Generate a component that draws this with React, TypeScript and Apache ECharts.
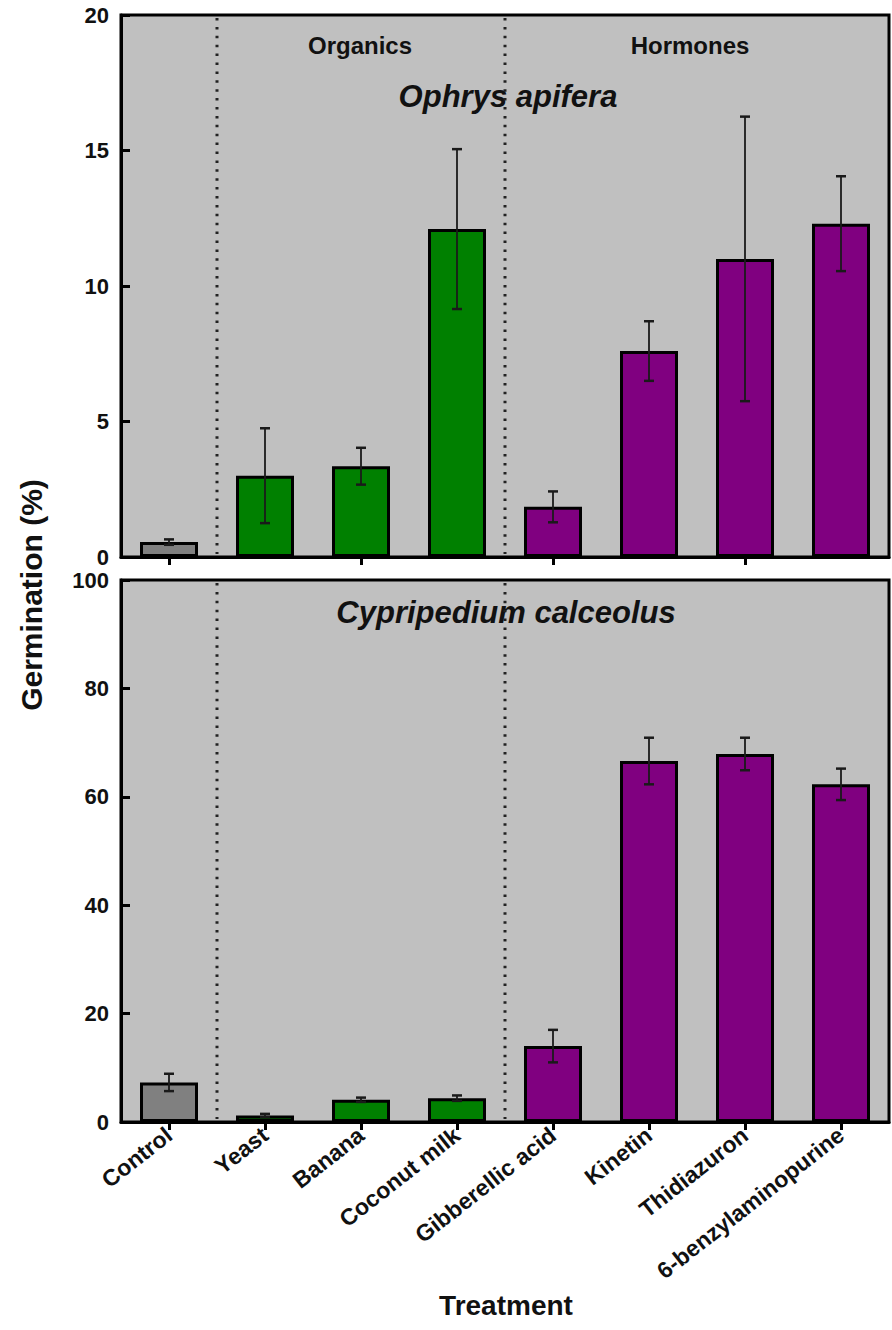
import React, { useEffect, useRef } from 'react';
import * as echarts from 'echarts';

const categories = ['Control', 'Yeast', 'Banana', 'Coconut milk', 'Gibberellic acid', 'Kinetin', 'Thidiazuron', '6-benzylaminopurine'];
const groups = ['Control', 'Organics', 'Organics', 'Organics', 'Hormones', 'Hormones', 'Hormones', 'Hormones'];
const ophrysMean = [0.55, 3.0, 3.35, 12.1, 1.85, 7.6, 11.0, 12.3];
const ophrysErr = [0.1, 1.75, 0.68, 2.95, 0.57, 1.1, 5.25, 1.75];
const cypMean = [7.3, 1.2, 4.1, 4.4, 14.0, 66.6, 67.9, 62.3];
const cypErr = [1.6, 0.3, 0.4, 0.5, 3.0, 4.3, 3.0, 2.9];
const topAxis = { min: 0, max: 20, interval: 5 };
const bottomAxis = { min: 0, max: 100, interval: 20 };
const separators = [1, 4];
const groupLabels = ['Organics', 'Hormones'];
const panelTitles = ['Ophrys apifera', 'Cypripedium calceolus'];

const groupColor: Record<string, string> = {
  Control: '#808080',
  Organics: '#008000',
  Hormones: '#800080',
};

const FONT = '"Liberation Sans", Arial, Helvetica, sans-serif';

export default function App() {
  const ref = useRef<HTMLDivElement>(null);
  useEffect(() => {
    document.body.style.margin = '0';
    const chart = echarts.init(ref.current!, null, { renderer: 'svg' });

    const barData = (vals: number[]) =>
      vals.map((v, i) => ({
        value: v,
        itemStyle: { color: groupColor[groups[i]], borderColor: '#000', borderWidth: 3 },
      }));

    const errData = (m: number[], e: number[]) => m.map((v, i) => [i, v, e[i]]);

    const errRender = (params: any, api: any) => {
      const idx = api.value(0);
      const mean = api.value(1);
      const err = api.value(2);
      const hi = api.coord([idx, mean + err]);
      const lo = api.coord([idx, mean - err]);
      const cap = 5;
      const style = { stroke: '#1a1a1a', lineWidth: 1.8 };
      return {
        type: 'group',
        children: [
          { type: 'line', shape: { x1: hi[0], y1: hi[1], x2: lo[0], y2: lo[1] }, style },
          { type: 'line', shape: { x1: hi[0] - cap, y1: hi[1], x2: hi[0] + cap, y2: hi[1] }, style: { ...style, lineWidth: 2.5 } },
          { type: 'line', shape: { x1: lo[0] - cap, y1: lo[1], x2: lo[0] + cap, y2: lo[1] }, style: { ...style, lineWidth: 2.5 } },
        ],
      };
    };

    const sepRender = (params: any, api: any) => {
      const idx = api.value(0);
      const c = api.coord([idx, 0]);
      const bw = api.size([1, 0])[0];
      const x = c[0] - bw / 2;
      const cs = params.coordSys;
      return {
        type: 'line',
        shape: { x1: x, y1: cs.y + 3, x2: x, y2: cs.y + cs.height - 3 },
        style: { stroke: '#222', lineWidth: 3, lineDash: [2.5, 6.4], lineCap: 'butt' },
      };
    };

    const yAxisCommon = {
      type: 'value',
      splitLine: { show: false },
      axisLine: { show: true, lineStyle: { color: '#000', width: 3 } },
      axisTick: { show: true, inside: true, length: 9, lineStyle: { color: '#000', width: 3 } },
      axisLabel: { color: '#111', fontFamily: FONT, fontWeight: 'bold', fontSize: 22, lineHeight: 17, margin: 12 },
    };

    const xAxisCommon = {
      type: 'category',
      data: categories,
      axisLine: { show: true, onZero: false, lineStyle: { color: '#000', width: 3 } },
      axisTick: { show: true, alignWithLabel: true, length: 8, lineStyle: { color: '#000', width: 3 } },
    };

    chart.setOption({
      animation: false,
      backgroundColor: '#fff',
      grid: [
        { left: 121, right: 3, top: 15, height: 542, show: true, backgroundColor: '#c0c0c0', borderColor: '#000', borderWidth: 3 },
        { left: 121, right: 3, top: 580, height: 542, show: true, backgroundColor: '#c0c0c0', borderColor: '#000', borderWidth: 3 },
      ],
      xAxis: [
        { ...xAxisCommon, gridIndex: 0, axisLabel: { show: false } },
        {
          ...xAxisCommon,
          gridIndex: 1,
          axisLabel: {
            show: true,
            rotate: 38,
            interval: 0,
            margin: 10,
            color: '#111',
            fontFamily: FONT,
            fontWeight: 'bold',
            fontSize: 23,
          },
        },
      ],
      yAxis: [
        { ...yAxisCommon, gridIndex: 0, ...topAxis },
        { ...yAxisCommon, gridIndex: 1, ...bottomAxis },
      ],
      series: [
        { type: 'custom', xAxisIndex: 0, yAxisIndex: 0, data: separators.map((s) => [s, 0]), renderItem: sepRender, z: 1, silent: true },
        { type: 'custom', xAxisIndex: 1, yAxisIndex: 1, data: separators.map((s) => [s, 0]), renderItem: sepRender, z: 1, silent: true },
        { type: 'bar', xAxisIndex: 0, yAxisIndex: 0, data: barData(ophrysMean), barWidth: 58, z: 2 },
        { type: 'bar', xAxisIndex: 1, yAxisIndex: 1, data: barData(cypMean), barWidth: 58, z: 2 },
        { type: 'custom', xAxisIndex: 0, yAxisIndex: 0, data: errData(ophrysMean, ophrysErr), renderItem: errRender, z: 3, encode: { x: 0, y: 1 } },
        { type: 'custom', xAxisIndex: 1, yAxisIndex: 1, data: errData(cypMean, cypErr), renderItem: errRender, z: 3, encode: { x: 0, y: 1 } },
      ],
      graphic: [
        { type: 'text', x: 360, y: 45, style: { text: groupLabels[0], font: `bold 24px ${FONT}`, fill: '#111', align: 'center', verticalAlign: 'middle' } },
        { type: 'text', x: 690, y: 45, style: { text: groupLabels[1], font: `bold 24px ${FONT}`, fill: '#111', align: 'center', verticalAlign: 'middle' } },
        { type: 'text', x: 508, y: 96, style: { text: panelTitles[0], font: `italic bold 31px ${FONT}`, fill: '#111', align: 'center', verticalAlign: 'middle' } },
        { type: 'text', x: 506, y: 612, style: { text: panelTitles[1], font: `italic bold 31px ${FONT}`, fill: '#111', align: 'center', verticalAlign: 'middle' } },
        { type: 'text', x: 31, y: 595, rotation: Math.PI / 2, style: { text: 'Germination (%)', font: `bold 30px ${FONT}`, fill: '#111', align: 'center', verticalAlign: 'middle' } },
        { type: 'text', x: 506, y: 1305, style: { text: 'Treatment', font: `bold 28px ${FONT}`, fill: '#111', align: 'center', verticalAlign: 'middle' } },
      ],
    });
    return () => chart.dispose();
  }, []);
  return <div ref={ref} style={{ width: 892, height: 1330 }} />;
}
